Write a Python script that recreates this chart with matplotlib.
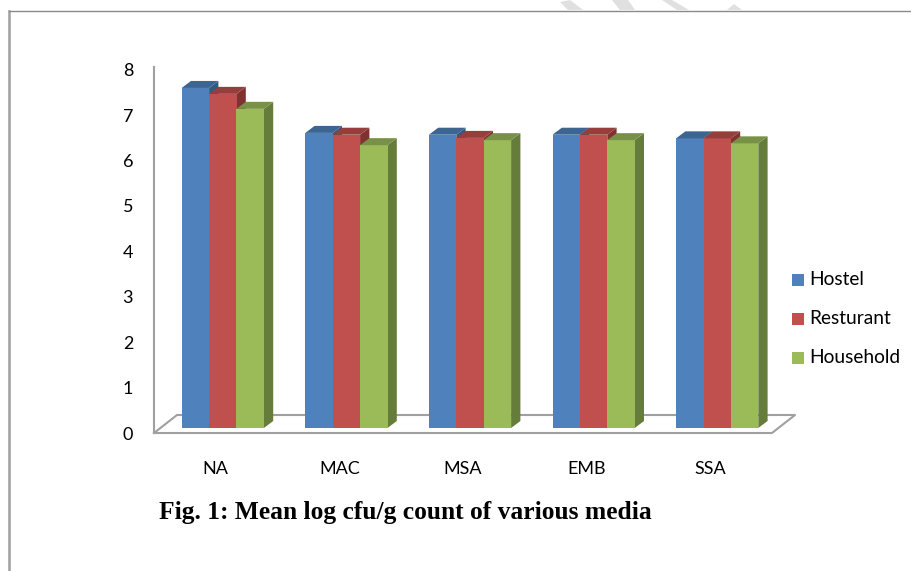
import matplotlib
matplotlib.use('Agg')
import matplotlib.pyplot as plt
from matplotlib.patches import Polygon, Rectangle
from matplotlib.lines import Line2D

W, H = 912, 571

categories = ['NA', 'MAC', 'MSA', 'EMB', 'SSA']
hostel = [7.49, 6.50, 6.46, 6.46, 6.38]
resturant = [7.36, 6.46, 6.39, 6.46, 6.38]
household = [7.03, 6.23, 6.34, 6.34, 6.27]
yticks = [0, 1, 2, 3, 4, 5, 6, 7, 8]
series_names = ['Hostel', 'Resturant', 'Household']
# front, top, side
colors = [('#4f81bd', '#3d6591', '#35587f'),
          ('#c0504d', '#953e3c', '#7f3230'),
          ('#9bbb59', '#789146', '#667c3a')]

plt.rcParams['font.family'] = ['Lato', 'DejaVu Sans']

fig = plt.figure(figsize=(W / 100, H / 100), dpi=100)

# chart axes, spans the front plane of the 3d box
L, R, T, B = 154, 772, 69.8, 433
ax = fig.add_axes([L / W, 1 - B / H, (R - L) / W, (B - T) / H])
ax.set_xlim(-0.5, 4.5)
ax.set_ylim(0, 8)
ax.patch.set_alpha(0)
for s in ['top', 'right', 'bottom', 'left']:
    ax.spines[s].set_visible(False)

px = 5 / (R - L)       # data units per pixel in x
py = 8 / (B - T)       # data units per pixel in y
grey = '#a0a0a0'

# floor of the box
floor_dx, floor_dy = 23 * px, 18 * py
ax.plot([-0.5, 4.5, 4.5 + floor_dx, -0.5 + floor_dx, -0.5],
        [0, 0, floor_dy, floor_dy, 0], color=grey, lw=1.5, clip_on=False, zorder=1)
ax.plot([-0.5, -0.5], [0, 8 + 3 * py], color=grey, lw=1.5, clip_on=False, zorder=1)

bar_w = 27.4 * px
lift = 5 * py
dx, dy = 9.3 * px, 7 * py
shift = 7 * px

for i, vals in enumerate([hostel, resturant, household]):
    front, top, side = colors[i]
    for c, v in enumerate(vals):
        x0 = c + shift + (i - 1.5) * bar_w
        x1 = x0 + bar_w
        y1 = v + lift
        z = 3 + c + i * 0.1
        ax.bar(x0, v, width=bar_w, bottom=lift, align='edge', color=front, zorder=z)
        ax.add_patch(Polygon([(x0, y1), (x1, y1), (x1 + dx, y1 + dy), (x0 + dx, y1 + dy)],
                             closed=True, fc=top, ec='none', zorder=z))
        ax.add_patch(Polygon([(x1, lift), (x1 + dx, lift + dy), (x1 + dx, y1 + dy), (x1, y1)],
                             closed=True, fc=side, ec='none', zorder=z - 0.05))

ax.set_xticks(range(len(categories)))
ax.set_xticklabels(categories)
ax.set_yticks(yticks)
ax.tick_params(axis='both', length=0, labelsize=13, labelcolor='black')
ax.tick_params(axis='x', pad=20)
ax.tick_params(axis='y', pad=15)

# legend, hand placed to match the swatch positions
leg_y = [280, 319, 357.5]
for name, (front, _, _), y in zip(series_names, colors, leg_y):
    fig.add_artist(Rectangle((792 / W, 1 - (y + 6) / H), 12 / W, 12 / H,
                             fc=front, ec='none', transform=fig.transFigure))
    fig.text(809.5 / W, 1 - y / H, name, fontsize=13.8, va='center', ha='left', color='black')

fig.text(159 / W, 1 - 512 / H, 'Fig. 1: Mean log cfu/g count of various media',
         fontsize=18.35, fontweight='bold', family='Liberation Serif', va='center', ha='left')

# bits of the page watermark showing above the frame
wm = [[(560, 2), (570, 0), (583, 10), (568, 10)],
      [(612, 0), (628, 0), (635, 10), (620, 10)],
      [(662, 0), (672, 0), (689, 10), (677, 10)],
      [(727, 10), (734, 4), (742, 10)]]
for pts in wm:
    fig.add_artist(Polygon([(x / W, 1 - y / H) for x, y in pts], closed=True,
                           fc='#e0e0e0', ec='none', transform=fig.transFigure))

# page frame around the embedded chart
frame = '#8a8a8a'
fig.add_artist(Line2D([9.5 / W, 9.5 / W], [1 - 10.5 / H, 0], color='#a0a0a0', lw=1.8))
fig.add_artist(Line2D([9.5 / W, 1], [1 - 10.5 / H, 1 - 10.5 / H], color=frame, lw=1.0))

fig.savefig('out.png', dpi=100)
